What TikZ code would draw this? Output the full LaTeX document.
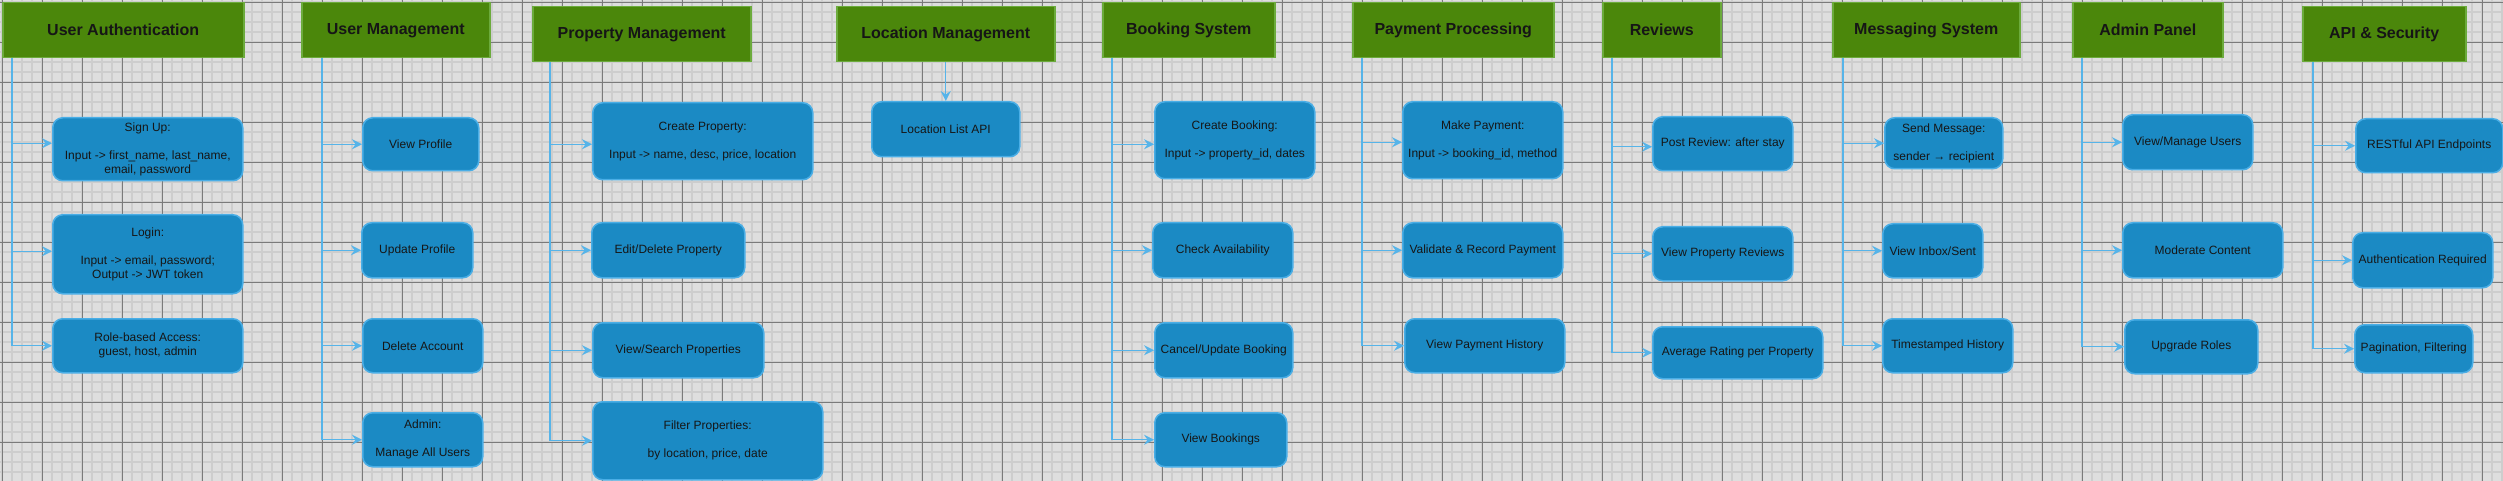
\documentclass[tikz,border=0pt]{standalone}
\usepackage{fontspec}
\setmainfont{Liberation Sans}
\usepackage{tikz}
\usetikzlibrary{shapes,arrows.meta,positioning}

\definecolor{gridbg}{HTML}{DEDEDE}
\definecolor{gridminor}{HTML}{CDCDCD}
\definecolor{gridmajor}{HTML}{7A7A7A}
\definecolor{hdrfill}{HTML}{4B870B}
\definecolor{hdrline}{HTML}{6CAB3C}
\definecolor{boxfill}{HTML}{1B8AC4}
\definecolor{boxline}{HTML}{4AAEE6}
\definecolor{linkcol}{HTML}{56B4E9}
\definecolor{txtcol}{HTML}{161616}

\begin{document}
\begin{tikzpicture}[x=1pt, y=-1pt,
	hdr/.style={draw=hdrline, fill=hdrfill, line width=1.5pt, anchor=north west, inner sep=0pt, text=txtcol, font=\fontsize{16}{19}\selectfont\bfseries},
	item/.style={draw=boxline, fill=boxfill, line width=1.5pt, rounded corners=10pt, anchor=north west, inner sep=0pt, align=center, text=txtcol, font=\fontsize{12}{14}\selectfont},
	link/.style={draw=linkcol, line width=1.3pt, -{Stealth[length=10pt, width=10pt, inset=3.5pt]}}]

				\useasboundingbox (0,0) rectangle (2503,481);

				% grid paper
				\fill [gridbg] (0,0) rectangle (2503,481);
				\foreach \gx in {2,12,...,2502} \draw [gridminor, line width=1.8pt] (\gx,0) -- (\gx,481);
				\foreach \gy in {2,12,...,472} \draw [gridminor, line width=1.8pt] (0,\gy) -- (2503,\gy);
				\foreach \gx in {2,42,...,2482} \draw [gridmajor, line width=0.8pt] (\gx,0) -- (\gx,481);
				\foreach \gy in {2,42,...,442} \draw [gridmajor, line width=0.8pt] (0,\gy) -- (2503,\gy);

				% headers
				\node [hdr, minimum width=241pt, minimum height=55pt] (auth) at (2,2) {User Authentication};
				\node [hdr, minimum width=188pt, minimum height=55pt] (usermgmt) at (301,2) {User Management};
				\node [hdr, minimum width=218pt, minimum height=55pt] (propmgmt) at (532,6) {Property Management};
				\node [hdr, minimum width=218pt, minimum height=55pt] (locmgmt) at (836,6) {Location Management};
				\node [hdr, minimum width=172pt, minimum height=55pt] (booking) at (1102,2) {Booking System};
				\node [hdr, minimum width=201pt, minimum height=55pt] (payment) at (1352,2) {Payment Processing};
				\node [hdr, minimum width=118pt, minimum height=55pt] (reviews) at (1602,2) {Reviews};
				\node [hdr, minimum width=187pt, minimum height=55pt] (messaging) at (1832,2) {Messaging System};
				\node [hdr, minimum width=150pt, minimum height=55pt] (admin) at (2072,2) {Admin Panel};
				\node [hdr, minimum width=163pt, minimum height=55pt] (apisec) at (2302,6) {API \& Security};

				% user authentication
				\node [item, minimum width=190pt, minimum height=63pt] (signup) at (52,117) {Sign Up:\\[14pt]Input -> first\_name, last\_name,\\email, password};
				\node [item, minimum width=190pt, minimum height=79pt] (login) at (52,214) {Login:\\[14pt]Input -> email, password;\\Output -> JWT token};
				\node [item, minimum width=190pt, minimum height=54pt] (roles) at (52,318) {Role-based Access:\\guest, host, admin};

				% user management
				\node [item, minimum width=116pt, minimum height=53pt] (viewprof) at (362,117) {View Profile};
				\node [item, minimum width=111pt, minimum height=55pt] (updprof) at (361,222) {Update Profile};
				\node [item, minimum width=120pt, minimum height=54pt] (delacc) at (362,318) {Delete Account};
				\node [item, minimum width=120pt, minimum height=54pt] (allusers) at (362,412) {Admin:\\[14pt]Manage All Users};

				% property management
				\node [item, minimum width=220pt, minimum height=77pt] (createprop) at (592,102) {Create Property:\\[14pt]Input -> name, desc, price, location};
				\node [item, minimum width=153pt, minimum height=55pt] (editprop) at (591,222) {Edit/Delete Property};
				\node [item, minimum width=171pt, minimum height=55pt] (searchprop) at (592,322) {View/Search Properties};
				\node [item, minimum width=230pt, minimum height=78pt] (filterprop) at (592,401) {Filter Properties:\\[14pt]by location, price, date};

				% location management
				\node [item, minimum width=148pt, minimum height=55pt] (loclist) at (871,101) {Location List API};

				% booking system
				\node [item, minimum width=160pt, minimum height=77pt] (createbook) at (1154,101) {Create Booking:\\[14pt]Input -> property\_id, dates};
				\node [item, minimum width=140pt, minimum height=55pt] (checkavail) at (1152,222) {Check Availability};
				\node [item, minimum width=138pt, minimum height=55pt] (cancelbook) at (1154,322) {Cancel/Update Booking};
				\node [item, minimum width=132pt, minimum height=54pt] (viewbook) at (1154,412) {View Bookings};

				% payment processing
				\node [item, minimum width=160pt, minimum height=77pt] (makepay) at (1402,101) {Make Payment:\\[14pt]Input -> booking\_id, method};
				\node [item, minimum width=160pt, minimum height=55pt] (validpay) at (1402,222) {Validate \& Record Payment};
				\node [item, minimum width=160pt, minimum height=54pt] (payhist) at (1404,318) {View Payment History};

				% reviews
				\node [item, minimum width=140pt, minimum height=54pt] (postrev) at (1652,116) {Post Review: after stay};
				\node [item, minimum width=140pt, minimum height=54pt] (viewrev) at (1652,226) {View Property Reviews};
				\node [item, minimum width=170pt, minimum height=52pt] (avgrate) at (1652,326) {Average Rating per Property};

				% messaging system
				\node [item, minimum width=118pt, minimum height=51pt] (sendmsg) at (1884,117) {Send Message:\\[14pt]sender → recipient};
				\node [item, minimum width=100pt, minimum height=54pt] (inbox) at (1882,223) {View Inbox/Sent};
				\node [item, minimum width=130pt, minimum height=54pt] (timehist) at (1882,318) {Timestamped History};

				% admin panel
				\node [item, minimum width=130pt, minimum height=55pt] (manusers) at (2122,114) {View/Manage Users};
				\node [item, minimum width=160pt, minimum height=55pt] (moderate) at (2122,222) {Moderate Content};
				\node [item, minimum width=133pt, minimum height=54pt] (upgrade) at (2124,319) {Upgrade Roles};

				% api and security
				\node [item, minimum width=147pt, minimum height=54pt] (restapi) at (2355,118) {RESTful API Endpoints};
				\node [item, minimum width=140pt, minimum height=55pt] (authreq) at (2352,232) {Authentication Required};
				\node [item, minimum width=118pt, minimum height=48pt] (paging) at (2354,324) {Pagination, Filtering};

				% connectors
				\draw [link] ([xshift=10pt]auth.south west) |- ([yshift=6pt]signup.west);
				\draw [link] ([xshift=10pt]auth.south west) |- ([yshift=3pt]login.west);
				\draw [link] ([xshift=10pt]auth.south west) |- (roles.west);

				\draw [link] ([xshift=21pt]usermgmt.south west) |- (viewprof.west);
				\draw [link] ([xshift=21pt]usermgmt.south west) |- (updprof.west);
				\draw [link] ([xshift=21pt]usermgmt.south west) |- (delacc.west);
				\draw [link] ([xshift=21pt]usermgmt.south west) |- (allusers.west);

				\draw [link] ([xshift=18pt]propmgmt.south west) |- ([yshift=-3pt]createprop.west);
				\draw [link] ([xshift=18pt]propmgmt.south west) |- (editprop.west);
				\draw [link] ([xshift=18pt]propmgmt.south west) |- (searchprop.west);
				\draw [link] ([xshift=18pt]propmgmt.south west) |- (filterprop.west);

				\draw [link] (locmgmt.south) -- (loclist.north);

				\draw [link] ([xshift=10pt]booking.south west) |- ([yshift=-4pt]createbook.west);
				\draw [link] ([xshift=10pt]booking.south west) |- (checkavail.west);
				\draw [link] ([xshift=10pt]booking.south west) |- (cancelbook.west);
				\draw [link] ([xshift=10pt]booking.south west) |- (viewbook.west);

				\draw [link] ([xshift=10pt]payment.south west) |- ([yshift=-2pt]makepay.west);
				\draw [link] ([xshift=10pt]payment.south west) |- (validpay.west);
				\draw [link] ([xshift=10pt]payment.south west) |- (payhist.west);

				\draw [link] ([xshift=10pt]reviews.south west) |- ([yshift=-3pt]postrev.west);
				\draw [link] ([xshift=10pt]reviews.south west) |- (viewrev.west);
				\draw [link] ([xshift=10pt]reviews.south west) |- (avgrate.west);

				\draw [link] ([xshift=11pt]messaging.south west) |- (sendmsg.west);
				\draw [link] ([xshift=11pt]messaging.south west) |- (inbox.west);
				\draw [link] ([xshift=11pt]messaging.south west) |- (timehist.west);

				\draw [link] ([xshift=10pt]admin.south west) |- (manusers.west);
				\draw [link] ([xshift=10pt]admin.south west) |- (moderate.west);
				\draw [link] ([xshift=10pt]admin.south west) |- (upgrade.west);

				\draw [link] ([xshift=11pt]apisec.south west) |- (restapi.west);
				\draw [link] ([xshift=11pt]apisec.south west) |- (authreq.west);
				\draw [link] ([xshift=11pt]apisec.south west) |- (paging.west);

\end{tikzpicture}
\end{document}
